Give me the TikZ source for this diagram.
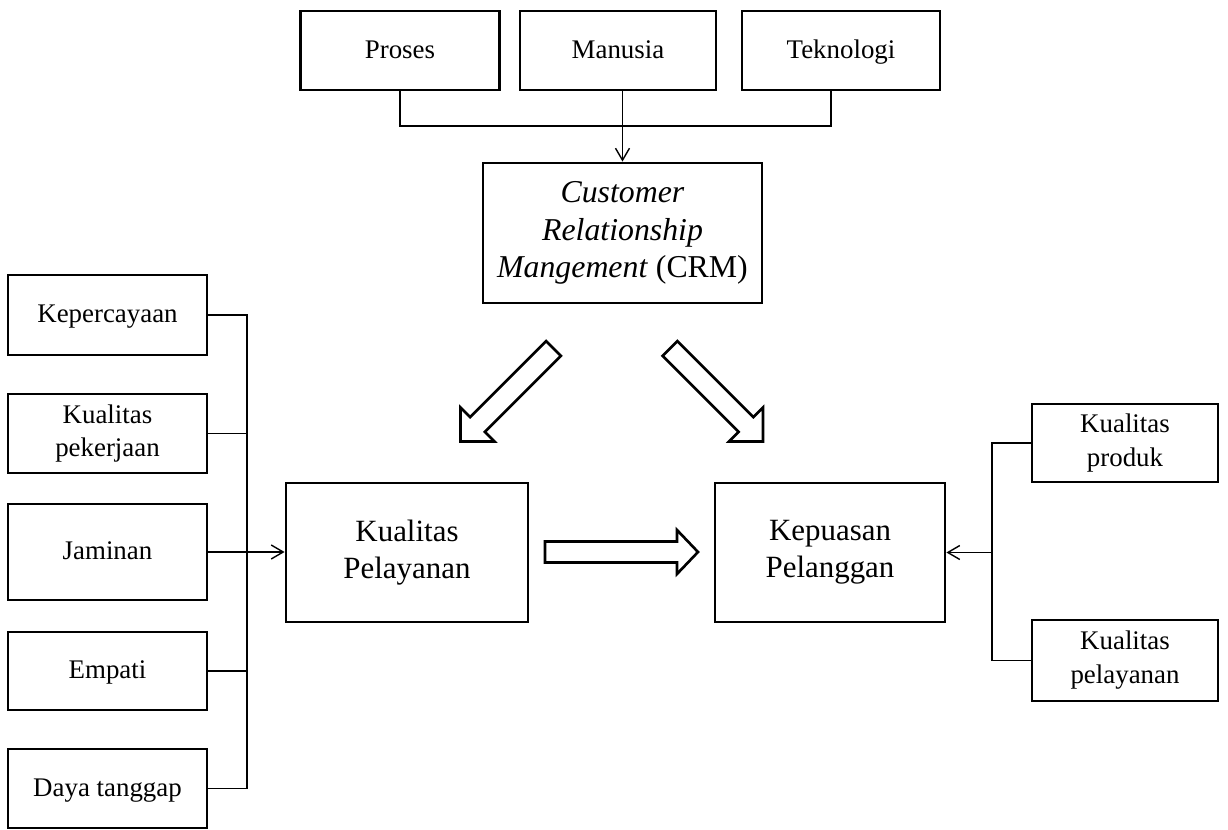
\documentclass[tikz,border=0pt]{standalone}
\usepackage{fontspec}
\setmainfont{Liberation Serif}
\usetikzlibrary{arrows.meta}
\tikzset{
	box/.style={draw, line width=1.6pt, align=center, inner sep=0pt,
		font=\fontsize{15.3}{19.3}\selectfont},
	oneline/.style={box, text height=2.1ex, text depth=0.2ex},
	bigbox/.style={box, font=\fontsize{17.6}{21}\selectfont},
	conn/.style={line width=0.8pt},
	arr/.style={-{Straight Barb[length=2.4mm,width=2.8mm]}},
	blockarrow/.style={line width=1.5pt, line join=miter},
}

\begin{document}
\begin{tikzpicture}
		\useasboundingbox (0,0) rectangle (24.56,-16.6);

		% faktor CRM
		\node[oneline, minimum width=3.98cm, minimum height=1.58cm] (proses) at (8.00,-1.01) {Proses};
		\node[oneline, minimum width=3.92cm, minimum height=1.58cm] (manusia) at (12.36,-1.01) {Manusia};
		\node[oneline, minimum width=3.96cm, minimum height=1.58cm] (teknologi) at (16.82,-1.01) {Teknologi};

		% CRM
		\node[box, font=\fontsize{18.1}{21.3}\selectfont, minimum width=5.58cm, minimum height=2.8cm] (crm) at (12.45,-4.66)
			{\textit{Customer}\\ \textit{Relationship}\\ \textit{Mangement} (CRM)};

		% dimensi kualitas pelayanan
		\node[oneline, minimum width=3.98cm, minimum height=1.6cm] (kepercayaan) at (2.15,-6.30) {Kepercayaan};
		\node[box, minimum width=3.98cm, minimum height=1.58cm] (pekerjaan) at (2.15,-8.67) {Kualitas\\ pekerjaan};
		\node[oneline, minimum width=3.98cm, minimum height=1.92cm] (jaminan) at (2.15,-11.04) {Jaminan};
		\node[oneline, minimum width=3.98cm, minimum height=1.56cm] (empati) at (2.15,-13.42) {Empati};
		\node[oneline, minimum width=3.98cm, minimum height=1.58cm] (dayatanggap) at (2.15,-15.77) {Daya tanggap};

		% variabel utama
		\node[bigbox, minimum width=4.84cm, minimum height=2.78cm] (kp) at (8.14,-11.05) {Kualitas\\ Pelayanan};
		\node[bigbox, minimum width=4.60cm, minimum height=2.78cm] (kepuasan) at (16.60,-11.05) {Kepuasan\\ Pelanggan};

		% faktor kepuasan
		\node[box, minimum width=3.72cm, minimum height=1.56cm] (produk) at (22.50,-8.86) {Kualitas\\ produk};
		\node[box, minimum width=3.72cm, minimum height=1.62cm] (rpelayanan) at (22.50,-13.21) {Kualitas\\ pelayanan};

		% garis ke CRM
		\coordinate (topjoin) at (12.44,-2.52);
		\draw[conn] (proses.south) |- (topjoin) -| ([xshift=-0.2cm]teknologi.south);
		\draw[conn, arr] (manusia.south -| crm.north) -- (crm.north);

		% garis kiri
		\coordinate (ljoin) at (4.94,-6.30);
		\draw[conn] (kepercayaan.east) -- (ljoin) |- (dayatanggap.east);
		\foreach \n in {pekerjaan, empati}
			\draw[conn] (\n.east) -- (\n.east -| ljoin);
		\draw[conn, arr] (jaminan.east) -- (jaminan.east -| kp.west);

		% garis kanan
		\coordinate (rjoin) at (19.84,-8.86);
		\draw[conn] (produk.west) -- (rjoin) |- (rpelayanan.west);
		\draw[conn, arr] (rjoin |- kepuasan.east) -- (kepuasan.east);

		% panah blok
		\draw[blockarrow, shift={(11.07,-6.97)}, rotate=225]
			(0,0.21) -- (2.15,0.21) -- (2.15,0.48) -- (2.63,0) -- (2.15,-0.48) -- (2.15,-0.21) -- (0,-0.21) -- cycle;
		\draw[blockarrow, shift={(13.40,-6.97)}, rotate=315]
			(0,0.21) -- (2.15,0.21) -- (2.15,0.48) -- (2.63,0) -- (2.15,-0.48) -- (2.15,-0.21) -- (0,-0.21) -- cycle;
		\draw[blockarrow, shift={(10.90,-11.04)}]
			(0,0.21) -- (2.64,0.21) -- (2.64,0.44) -- (3.06,0) -- (2.64,-0.44) -- (2.64,-0.21) -- (0,-0.21) -- cycle;

	\end{tikzpicture}
\end{document}
